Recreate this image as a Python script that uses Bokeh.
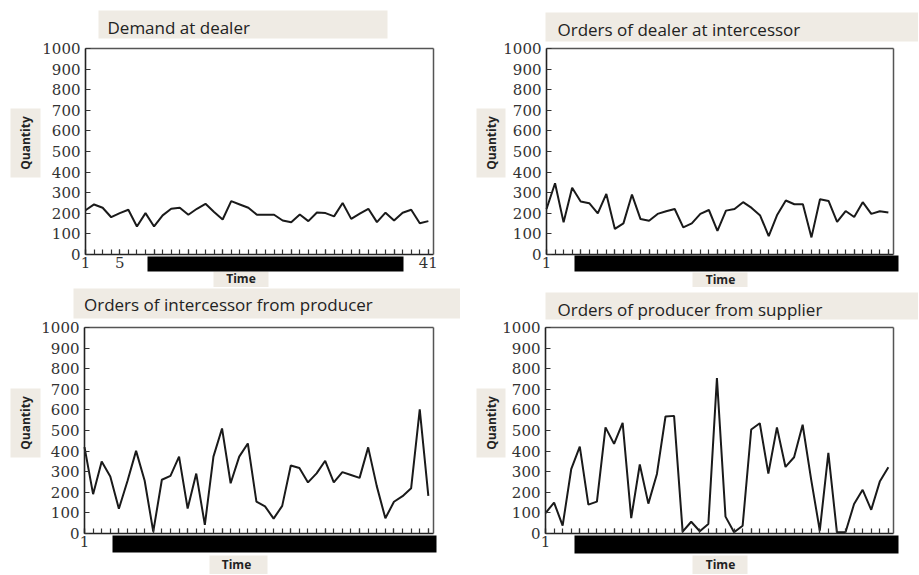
from math import pi
from bokeh.plotting import figure
from bokeh.layouts import column, row
from bokeh.models import Range1d, FixedTicker, BoxAnnotation, Label, LinearAxis
from bokeh.embed import file_html
from bokeh.resources import INLINE

# ---------------- data ----------------
time = list(range(1, 42))
x_tick_labels = [1, 5, 9, 13, 17, 21, 25, 29, 33, 37, 41]
y_ticks = [0, 100, 200, 300, 400, 500, 600, 700, 800, 900, 1000]
x_min, x_max = 1, 41.6
y_min, y_max = 0, 1000

titles = ["Demand at dealer", "Orders of dealer at intercessor",
          "Orders of intercessor from producer", "Orders of producer from supplier"]
x_label = "Time"
y_label = "Quantity"

demand_at_dealer = [215, 243, 227, 181, 201, 217, 136, 201, 136, 190, 222, 227, 193, 222,
                    246, 206, 170, 259, 243, 227, 193, 193, 193, 165, 157, 194, 162, 204,
                    201, 185, 250, 173, 198, 222, 157, 203, 165, 203, 217, 152, 162]
orders_dealer = [221, 346, 156, 324, 257, 249, 200, 294, 124, 151, 291, 172, 164, 197,
                 210, 221, 132, 151, 197, 216, 115, 213, 221, 254, 226, 189, 89, 193,
                 262, 244, 244, 83, 268, 260, 158, 211, 182, 254, 197, 210, 204]
orders_intercessor = [419, 191, 349, 277, 120, 255, 401, 256, 9, 261, 280, 373, 121, 291,
                      42, 373, 510, 244, 373, 437, 155, 132, 72, 134, 330, 318, 248, 292,
                      353, 248, 298, 284, 270, 418, 230, 74, 154, 181, 220, 603, 183]
orders_producer = [99, 150, 38, 312, 422, 140, 155, 515, 435, 537, 75, 335, 145, 289,
                   568, 571, 9, 57, 11, 46, 754, 82, 6, 38, 505, 535, 291, 515,
                   323, 370, 528, 260, 14, 391, 6, 6, 143, 212, 115, 252, 322]

series = [demand_at_dealer, orders_dealer, orders_intercessor, orders_producer]

# ---------------- layout constants (page px, as in the picture) ----------------
BEIGE = "#efebe4"
panels_geo = [
    dict(origin=(0, 0), size=(460, 287), frame=(85, 433, 48, 254),
         title_xy=(107, 26.5), tbox=(98, 387, 10, 38),
         qbox=(10, 40, 108, 177), time_xy=(240.5, 278), tmbox=(213, 268, 271, 290),
         bar=(147, 403, 256, 271)),
    dict(origin=(460, 0), size=(458, 287), frame=(546, 893, 48, 254),
         title_xy=(557, 28.5), tbox=(545, 918, 12, 41),
         qbox=(476, 505, 108, 177), time_xy=(720, 279), tmbox=(692, 747, 272, 290),
         bar=(574, 898, 255, 271)),
    dict(origin=(0, 287), size=(460, 287), frame=(84, 433, 327, 533),
         title_xy=(83.5, 304), tbox=(73, 460, 288, 318),
         qbox=(10, 40, 388, 457), time_xy=(236, 563.5), tmbox=(209, 267, 555, 575),
         bar=(112, 436, 535, 552)),
    dict(origin=(460, 287), size=(458, 287), frame=(545, 893, 327, 533),
         title_xy=(557, 308.5), tbox=(545, 918, 292, 319),
         qbox=(476, 505, 388, 457), time_xy=(720, 563.5), tmbox=(692, 747, 555, 575),
         bar=(574, 898, 535, 553)),
]


def make_panel(title, values, g):
    ox, oy = g["origin"]
    W, H = g["size"]
    fl, fr, ft, fb = g["frame"]
    fl, fr, ft, fb = fl - ox, fr - ox, ft - oy, fb - oy
    sx = (fr - fl) / (x_max - x_min)
    sy = (fb - ft) / (y_max - y_min)
    xr = Range1d(x_min - fl / sx, x_max + (W - fr) / sx)
    yr = Range1d(y_min - (H - fb) / sy, y_max + ft / sy)

    p = figure(frame_width=W, frame_height=H, min_border=0,
               x_range=xr, y_range=yr,
               output_backend="svg", toolbar_location=None,
               background_fill_color="white", border_fill_color="white")
    p.title.visible = False
    p.outline_line_color = None
    p.grid.visible = False

    def cbox(b, color, level):
        return BoxAnnotation(left=b[0] - ox, right=b[1] - ox, top=b[2] - oy, bottom=b[3] - oy,
                             left_units="canvas", right_units="canvas",
                             top_units="canvas", bottom_units="canvas",
                             fill_color=color, fill_alpha=1.0, line_color=None, level=level)

    # beige boxes behind texts
    p.add_layout(cbox(g["tbox"], BEIGE, "underlay"))
    p.add_layout(cbox(g["qbox"], BEIGE, "underlay"))
    p.add_layout(cbox(g["tmbox"], BEIGE, "underlay"))

    p.line(time, values, line_color="#1a1a1a", line_width=2)

    xa = p.xaxis[0]
    xa.fixed_location = y_min
    xa.bounds = (x_min, x_max)
    xa.ticker = FixedTicker(ticks=x_tick_labels, minor_ticks=time)
    ya = p.yaxis[0]
    ya.fixed_location = x_min
    ya.bounds = (y_min, y_max)
    ya.ticker = FixedTicker(ticks=y_ticks, minor_ticks=[])
    for ax in (xa, ya):
        ax.axis_line_color = "#222222"
        ax.axis_line_width = 1.6
        ax.major_tick_in = 5
        ax.major_tick_out = 0
        ax.major_tick_line_color = "#333333"
        ax.major_tick_line_width = 1.2
        ax.major_label_text_font = "DejaVu Serif"
        ax.major_label_text_font_size = "15px"
        ax.major_label_text_color = "#333333"
    xa.major_label_standoff = 2
    ya.major_label_standoff = 5
    xa.minor_tick_in = 5
    xa.minor_tick_out = 0
    xa.minor_tick_line_color = "#333333"
    xa.minor_tick_line_width = 1.2
    ya.minor_tick_line_color = None

    # top and right edges of the frame box
    top = LinearAxis(fixed_location=y_max, bounds=(x_min, x_max),
                     ticker=FixedTicker(ticks=[]), major_label_text_font_size="0px",
                     axis_line_color="#555555", axis_line_width=1.5,
                     major_tick_line_color=None, minor_tick_line_color=None)
    right = LinearAxis(fixed_location=x_max, bounds=(y_min, y_max),
                       ticker=FixedTicker(ticks=[]), major_label_text_font_size="0px",
                       axis_line_color="#555555", axis_line_width=1.5,
                       major_tick_line_color=None, minor_tick_line_color=None)
    p.add_layout(top, "above")
    p.add_layout(right, "right")

    # texts
    tx, ty = g["title_xy"]
    p.add_layout(Label(x=tx - ox, y=ty - oy, x_units="canvas", y_units="canvas",
                       text=title, text_align="left", text_baseline="middle",
                       text_font="Open Sans", text_font_size="17px",
                       text_color="#222222"))
    q = g["qbox"]
    p.add_layout(Label(x=(q[0] + q[1]) / 2 - ox, y=(q[2] + q[3]) / 2 - oy,
                       x_units="canvas", y_units="canvas",
                       text=y_label, angle=pi / 2, text_align="center", text_baseline="middle",
                       text_font="Open Sans", text_font_size="12px", text_font_style="bold",
                       text_color="#222222"))
    t = g["time_xy"]
    p.add_layout(Label(x=t[0] - ox, y=t[1] - oy, x_units="canvas", y_units="canvas",
                       text=x_label, text_align="center", text_baseline="middle",
                       text_font="Open Sans", text_font_size="12px", text_font_style="bold",
                       text_color="#222222"))

    # black redaction bar over the hidden tick labels
    p.add_layout(cbox(g["bar"], "black", "overlay"))
    return p


figs = [make_panel(titles[i], series[i], panels_geo[i]) for i in range(4)]
layout = column(row(figs[0], figs[1]), row(figs[2], figs[3]))

open("out.html", "w").write(file_html(layout, INLINE))
